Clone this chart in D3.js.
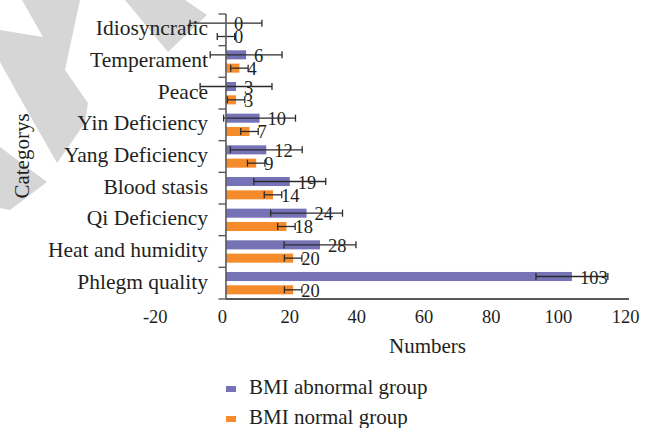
<!DOCTYPE html>
<html>
<head>
<meta charset="utf-8">
<script src="https://d3js.org/d3.v7.min.js"></script>
<style>
  body { margin: 0; background: #fff; }
  svg { display: block; }
</style>
</head>
<body>
<svg id="chart" width="651" height="428" font-family="'Liberation Serif', 'DejaVu Serif', serif" fill="#231f20"></svg>
<script>
// categories, top to bottom as drawn
const categories = ['Idiosyncratic', 'Temperament', 'Peace', 'Yin Deficiency', 'Yang Deficiency',
    'Blood stasis', 'Qi Deficiency', 'Heat and humidity', 'Phlegm quality'];
const seriesNames = ['BMI abnormal group', 'BMI normal group'];
const abnormalValues = [0, 6, 3, 10, 12, 19, 24, 28, 103];
const normalValues = [0, 4, 3, 7, 9, 14, 18, 20, 20];
// error bar half widths
const abnormalErrors = [10.7, 10.7, 10.7, 10.7, 10.7, 10.7, 10.7, 10.7, 10.7];
const normalErrors = [2.6, 2.6, 2.6, 2.6, 2.6, 2.6, 2.6, 2.6, 2.6];
const xTicks = [-20, 0, 20, 40, 60, 80, 100, 120];
const colors = ['#7672b6', '#f68b2b'];

const svg = d3.select('#chart');

function drawWatermark(svg) {
    const shapes = [
        [[22, 0], [80, 0], [65, 70], [88, 103], [85, 123], [57, 163], [20, 98], [0, 62], [0, 30], [43, 37]],
        [[0, 147], [47, 182], [10, 210], [0, 208]],
        [[125, 0], [185, 0], [207, 15], [168, 52]]
    ];
    svg.append('g').attr('class', 'watermark')
        .selectAll('polygon').data(shapes).enter().append('polygon')
        .attr('points', function (d) { return d.map(function (p) { return p.join(','); }).join(' '); })
        .attr('fill', '#d6d6d6');
}

drawWatermark(svg);

const x = d3.scaleLinear().domain([-20, 120]).range([158.8, 629]);
const y = d3.scaleBand().domain(categories).range([14, 299]);
const inner = d3.scaleBand().domain(seriesNames).range([0, y.bandwidth()])
    .paddingInner(0.32).paddingOuter(0.35);

const rows = [];
categories.forEach(function (c, i) {
    rows.push({cat: c, series: seriesNames[0], value: abnormalValues[i], err: abnormalErrors[i], color: colors[0]});
    rows.push({cat: c, series: seriesNames[1], value: normalValues[i], err: normalErrors[i], color: colors[1]});
});

function barY(d) {
    return y(d.cat) + inner(d.series);
}
function barMid(d) {
    return barY(d) + inner.bandwidth() / 2;
}

// bars
svg.append('g').selectAll('rect.bar')
    .data(rows).enter().append('rect')
    .attr('class', 'bar')
    .attr('x', x(0))
    .attr('y', barY)
    .attr('width', function (d) { return x(d.value) - x(0); })
    .attr('height', inner.bandwidth())
    .attr('fill', function (d) { return d.color; });

// value labels
svg.append('g').selectAll('text.value')
    .data(rows).enter().append('text')
    .attr('class', 'value')
    .attr('x', function (d) { return x(d.value) + 8; })
    .attr('y', function (d) { return barMid(d) + 7; })
    .attr('font-size', 18.5)
    .text(function (d) { return d.value; });

// category labels
svg.append('g').selectAll('text.cat')
    .data(categories).enter().append('text')
    .attr('class', 'cat')
    .attr('x', 208)
    .attr('y', function (d) { return y(d) + y.bandwidth() / 2 + 5.5; })
    .attr('text-anchor', 'end')
    .attr('font-size', 21.5)
    .text(function (d) { return d; });

// error bars
const eb = svg.append('g').selectAll('g.err')
    .data(rows).enter().append('g')
    .attr('class', 'err')
    .attr('stroke', '#2b2b2b')
    .attr('stroke-width', 1.3);
eb.append('line')
    .attr('x1', function (d) { return x(d.value - d.err); })
    .attr('x2', function (d) { return x(d.value + d.err); })
    .attr('y1', barMid).attr('y2', barMid);
eb.append('line')
    .attr('x1', function (d) { return x(d.value - d.err); })
    .attr('x2', function (d) { return x(d.value - d.err); })
    .attr('y1', function (d) { return barMid(d) - 3.5; })
    .attr('y2', function (d) { return barMid(d) + 3.5; });
eb.append('line')
    .attr('x1', function (d) { return x(d.value + d.err); })
    .attr('x2', function (d) { return x(d.value + d.err); })
    .attr('y1', function (d) { return barMid(d) - 3.5; })
    .attr('y2', function (d) { return barMid(d) + 3.5; });

// axes
const axisColor = '#5a5a5a';
const yAxis = svg.append('g');
yAxis.append('line')
    .attr('x1', x(0)).attr('x2', x(0))
    .attr('y1', y.range()[0]).attr('y2', y.range()[1])
    .attr('stroke', axisColor).attr('stroke-width', 1.6);
const boundaries = categories.map(function (c) { return y(c); }).concat([y.range()[1]]);
yAxis.selectAll('line.tick')
    .data(boundaries).enter().append('line')
    .attr('class', 'tick')
    .attr('x1', x(0) - 7.5).attr('x2', x(0))
    .attr('y1', function (d) { return d; }).attr('y2', function (d) { return d; })
    .attr('stroke', axisColor).attr('stroke-width', 1.4);

svg.append('line')
    .attr('x1', x(0)).attr('x2', x(120))
    .attr('y1', y.range()[1]).attr('y2', y.range()[1])
    .attr('stroke', axisColor).attr('stroke-width', 1.8);

svg.append('g').selectAll('text.xtick')
    .data(xTicks).enter().append('text')
    .attr('class', 'xtick')
    .attr('x', function (d) { return x(d) - 3.5; })
    .attr('y', 323)
    .attr('text-anchor', 'middle')
    .attr('font-size', 18.5)
    .text(function (d) { return d; });

// axis titles
svg.append('text')
    .attr('x', (x(0) + x(120)) / 2)
    .attr('y', 352.5)
    .attr('text-anchor', 'middle')
    .attr('font-size', 21)
    .text('Numbers');

svg.append('text')
    .attr('transform', 'translate(28.5,156) rotate(-90)')
    .attr('text-anchor', 'middle')
    .attr('font-size', 21)
    .text('Categorys');

// legend
const legend = svg.append('g').selectAll('g.legend')
    .data(seriesNames).enter().append('g')
    .attr('class', 'legend')
    .attr('transform', function (d, i) { return 'translate(226,' + (394 + i * 30) + ')'; });
legend.append('rect')
    .attr('x', 0).attr('y', -8)
    .attr('width', 10).attr('height', 6)
    .attr('fill', function (d, i) { return colors[i]; });
legend.append('text')
    .attr('x', 23).attr('y', 0)
    .attr('font-size', 21)
    .text(function (d) { return d; });
</script>
</body>
</html>
